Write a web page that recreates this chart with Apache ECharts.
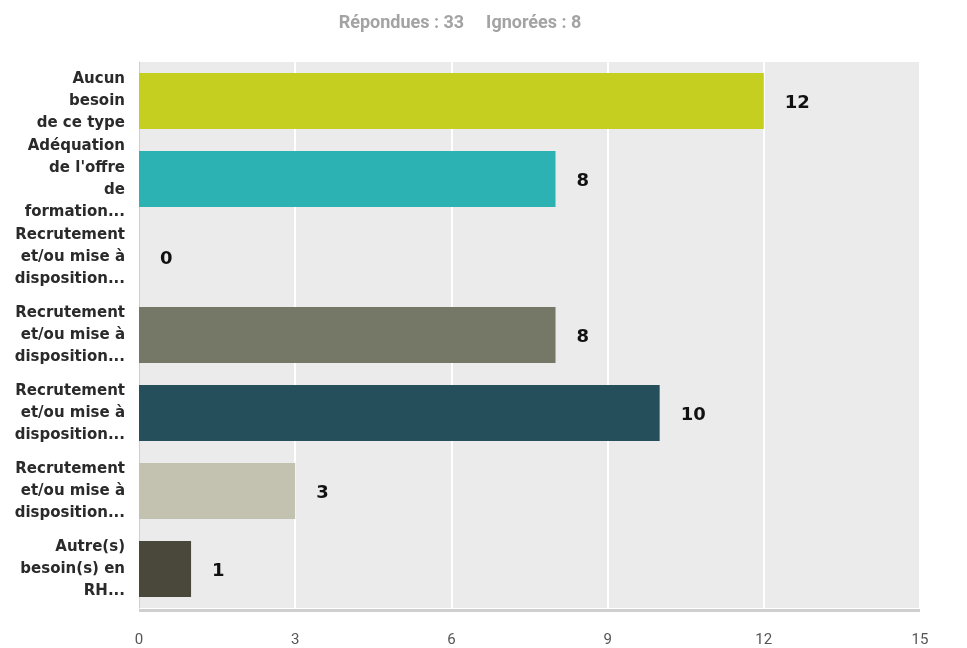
<!DOCTYPE html>
<html><head><meta charset="utf-8">
<script src="https://cdn.jsdelivr.net/npm/echarts@6/dist/echarts.min.js"></script>
<style>html,body{margin:0;padding:0;background:#fff}#c{width:967px;height:648px}</style>
</head><body><div id="c"></div>
<script>
const categories = [
  "Aucun\nbesoin\nde ce type",
  "Adéquation\nde l'offre\nde\nformation...",
  "Recrutement\net/ou mise à\ndisposition...",
  "Recrutement\net/ou mise à\ndisposition...",
  "Recrutement\net/ou mise à\ndisposition...",
  "Recrutement\net/ou mise à\ndisposition...",
  "Autre(s)\nbesoin(s) en\nRH..."
];
const values = [12, 8, 0, 8, 10, 3, 1];
const colors = ["#c5cf20", "#2db2b3", "#cccccc", "#757867", "#244f5b", "#c3c2b0", "#4a483a"];
const xTicks = [0, 3, 6, 9, 12, 15];
const titleParts = ["Répondues : 33", "Ignorées : 8"];

const chart = echarts.init(document.getElementById('c'));
chart.setOption({
  animation: false,
  title: {
    text: '{a|' + titleParts[0] + '}{g|}{a|' + titleParts[1] + '}', left: 455, textAlign: 'center', top: 9,
    textStyle: {
      rich: {
        a: { fontFamily: "Roboto, sans-serif", fontSize: 18, fontWeight: 'bold', color: '#a3a3a3' },
        g: { width: 22 }
      }
    }
  },
  grid: { left: 139, right: 47, top: 62, bottom: 38, containLabel: false, show: true, backgroundColor: '#ebebeb', borderWidth: 0 },
  xAxis: {
    type: 'value', min: 0, max: 15, interval: 3,
    axisLine: { show: false },
    axisTick: { show: false },
    splitLine: { show: true, lineStyle: { color: '#ffffff', width: 2 } },
    axisLabel: { margin: 25, color: '#555', fontSize: 15, fontFamily: "Roboto, sans-serif",
      formatter: v => xTicks.includes(v) ? String(v) : '' }
  },
  yAxis: {
    type: 'category', data: categories, inverse: true,
    axisLine: { show: true, lineStyle: { color: '#cfcfcf', width: 1 } },
    axisTick: { show: false },
    axisLabel: { margin: 14, color: '#2a2a2a', fontSize: 15, fontWeight: 'bold', lineHeight: 22, align: 'right',
      fontFamily: "'DejaVu Sans', sans-serif" }
  },
  series: [{
    type: 'bar', barWidth: 56,
    data: values.map((v, i) => ({ value: v, itemStyle: { color: colors[i] } })),
    label: { show: true, position: 'right', distance: 21, color: '#111', fontSize: 18, fontWeight: 'bold',
      fontFamily: "'DejaVu Sans', sans-serif", offset: [0, 2] },
    markLine: {
      silent: true, symbol: 'none', label: { show: false },
      lineStyle: { color: '#cfcfcf', width: 3, type: 'solid' },
      data: [[{ xAxis: 0, y: 610 }, { xAxis: 15, y: 610 }]]
    }
  }]
});
</script></body></html>
